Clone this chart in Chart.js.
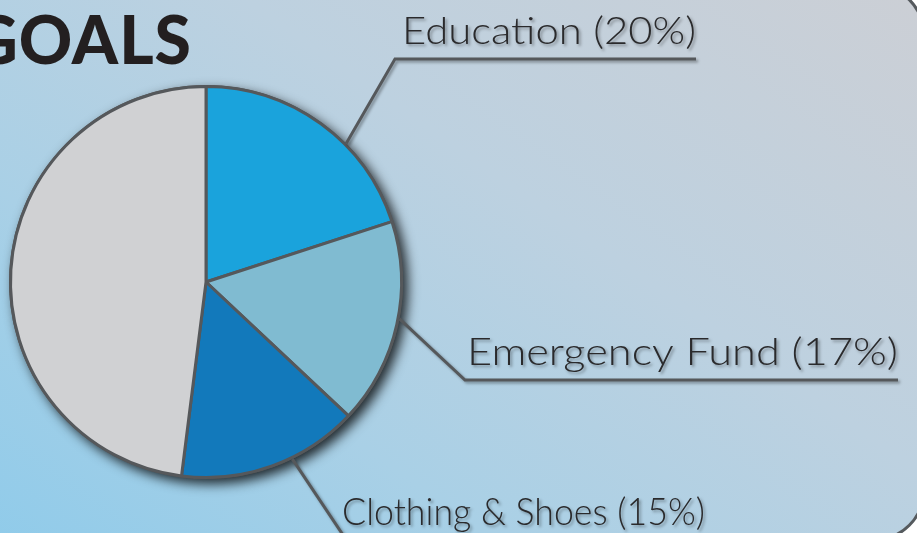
<!DOCTYPE html>
<html>
<head>
<meta charset="utf-8">
<script src="https://cdn.jsdelivr.net/npm/chart.js@4.4.1/dist/chart.umd.min.js"></script>
<style>
  html,body{margin:0;padding:0;background:#ffffff;overflow:hidden;}
  #wrap{position:relative;width:917px;height:533px;overflow:hidden;background:#fff;}
  #panel{position:absolute;left:-30px;top:-16px;width:955px;height:557px;border-radius:50px;
    border:3px solid #555a5e;box-sizing:border-box;
    background:linear-gradient(35deg,#8fcbea 0%,#a9d0e6 30%,#bdd1e0 60%,#cccfd5 100%);}
  #title{position:absolute;right:725px;top:-1px;font-family:"Lato","DejaVu Sans",sans-serif;font-weight:900;
    font-size:66px;line-height:80px;color:#231f20;letter-spacing:1px;white-space:nowrap;}
  canvas{position:absolute;left:0;top:0;}
</style>
</head>
<body>
<div id="wrap">
  <div id="panel"></div>
  <div id="title">GOALS</div>
  <canvas id="c" width="917" height="533"></canvas>
</div>
<script>
const categories = ["Education", "Emergency Fund", "Clothing & Shoes", "Other"];
const values = [20, 17, 15, 48];
const sliceLabels = ["Education (20%)", "Emergency Fund (17%)", "Clothing & Shoes (15%)", null];
const colors = ["#1aa3dc", "#80bbd1", "#1279bb", "#d0d1d3"];

const pieShadow = {
  id: 'pieShadow',
  beforeDatasetsDraw(chart) {
    const arc = chart.getDatasetMeta(0).data[0];
    if (!arc) return;
    const ctx = chart.ctx;
    ctx.save();
    ctx.shadowColor = 'rgba(0,0,0,0.8)';
    ctx.shadowBlur = 12;
    ctx.shadowOffsetX = 5;
    ctx.shadowOffsetY = 5;
    ctx.beginPath();
    ctx.arc(arc.x, arc.y, arc.outerRadius + 1.5, 0, Math.PI * 2);
    ctx.fillStyle = '#555';
    ctx.fill();
    ctx.restore();
  }
};

const leaders = {
  id: 'leaders',
  afterDatasetsDraw(chart, args, opts) {
    const meta = chart.getDatasetMeta(0);
    const ctx = chart.ctx;
    meta.data.forEach((arc, i) => {
      const text = sliceLabels[i];
      const spec = opts.items[i];
      if (!text || !spec) return;
      const p = arc.getProps(['x', 'y', 'startAngle', 'endAngle', 'outerRadius'], true);
      const a = p.startAngle + (p.endAngle - p.startAngle) * spec.t;
      const r = p.outerRadius + 1.5;
      const x0 = p.x + Math.cos(a) * r, y0 = p.y + Math.sin(a) * r;
      ctx.save();
      ctx.font = opts.font;
      const w = ctx.measureText(text).width;
      const sx = spec.w / w;
      ctx.shadowColor = 'rgba(0,0,0,0.35)';
      ctx.shadowBlur = 3;
      ctx.shadowOffsetX = 2;
      ctx.shadowOffsetY = 2;
      ctx.strokeStyle = '#55585b';
      ctx.lineWidth = 3;
      ctx.beginPath();
      ctx.moveTo(x0, y0);
      ctx.lineTo(spec.ex, spec.ey);
      ctx.lineTo(spec.tx + spec.w, spec.ey);
      ctx.stroke();
      ctx.fillStyle = '#2a2a2c';
      ctx.textBaseline = 'alphabetic';
      ctx.textAlign = 'left';
      ctx.translate(spec.tx, spec.ty);
      ctx.scale(sx, 1);
      ctx.fillText(text, 0, 0);
      ctx.restore();
    });
  }
};

new Chart(document.getElementById('c'), {
  type: 'pie',
  data: {
    labels: categories,
    datasets: [{
      data: values,
      backgroundColor: colors,
      borderColor: '#55585b',
      borderWidth: 3,
      borderAlign: 'center'
    }]
  },
  options: {
    responsive: false,
    animation: false,
    layout: { padding: { left: 9, top: 85, right: 514, bottom: 54 } },
    plugins: {
      legend: { display: false },
      tooltip: { enabled: false },
      leaders: {
        font: '300 38px "Lato", "Open Sans", sans-serif',
        items: [
          { t: 0.63, ex: 395, ey: 59, tx: 402, ty: 44, w: 294 },
          { t: 0.47, ex: 465, ey: 380, tx: 467, ty: 365, w: 431 },
          { t: 0.385, ex: 347, ey: 541, tx: 342, ty: 525, w: 363 }
        ]
      }
    }
  },
  plugins: [pieShadow, leaders]
});
</script>
</body>
</html>
